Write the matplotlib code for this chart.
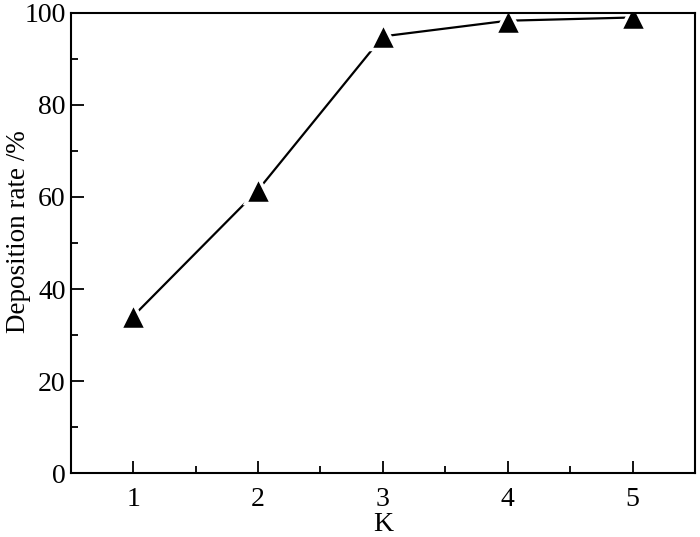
import matplotlib
matplotlib.use('Agg')
import matplotlib.pyplot as plt
from matplotlib.ticker import MultipleLocator

k = [1, 2, 3, 4, 5]
rate = [34.1, 61.5, 94.9, 98.3, 99.0]

plt.rcParams['font.family'] = ['Liberation Serif', 'DejaVu Serif']

fig = plt.figure(figsize=(7, 5.37), dpi=100)
ax = fig.add_axes([0.101, 0.119, 0.892, 0.857])

ax.plot(k, rate, color='black', linewidth=1.6, marker='^', markersize=19,
        markerfacecolor='black', markeredgecolor='white', markeredgewidth=2.5)

ax.set_xlim(0.5, 5.5)
ax.set_ylim(0, 100)
ax.xaxis.set_major_locator(MultipleLocator(1))
ax.xaxis.set_minor_locator(MultipleLocator(0.5))
ax.yaxis.set_major_locator(MultipleLocator(20))
ax.yaxis.set_minor_locator(MultipleLocator(10))
ax.tick_params(which='both', direction='in', labelsize=20, width=1.3)
ax.tick_params(which='major', length=9)
ax.tick_params(which='minor', length=5)
ax.tick_params(axis='x', pad=10)
for s in ax.spines.values():
    s.set_linewidth(1.5)

ax.set_xlabel('K', fontsize=20, labelpad=0)
ax.set_ylabel('Deposition rate /%', fontsize=19.5)
ax.yaxis.set_label_coords(-0.064, 0.524)

fig.savefig('out.png', dpi=100)
